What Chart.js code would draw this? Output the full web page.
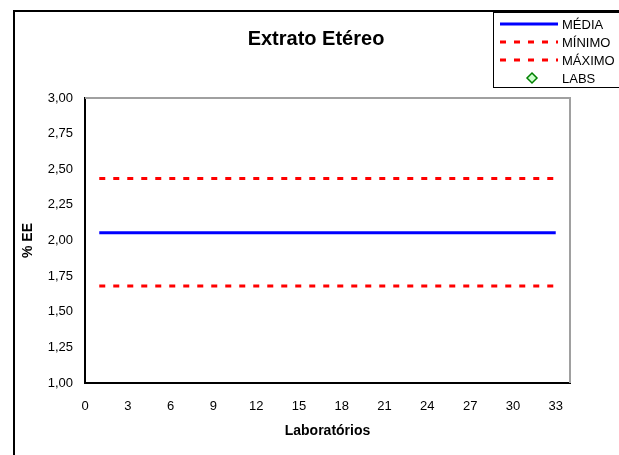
<!DOCTYPE html>
<html>
<head>
<meta charset="utf-8">
<script src="https://cdn.jsdelivr.net/npm/chart.js@4"></script>
<style>
  html, body { margin: 0; padding: 0; background: #fff; }
  #wrap { position: relative; width: 619px; height: 455px; }
</style>
</head>
<body>
<div id="wrap"><canvas id="chart" width="619" height="455"></canvas></div>
<script>
const chartTitle = "Extrato Etéreo";
const xTicks = [0, 3, 6, 9, 12, 15, 18, 21, 24, 27, 30, 33];
const yTicks = [1.00, 1.25, 1.50, 1.75, 2.00, 2.25, 2.50, 2.75, 3.00];

const mediaX = [1, 33];
const mediaY = [2.055, 2.055];
const minimoX = [1, 33];
const minimoY = [1.68, 1.68];
const maximoX = [1, 33];
const maximoY = [2.435, 2.435];
const labsX = [];
const labsY = [];

const FONT = "'Liberation Sans', Arial, sans-serif";
const toPoints = (xs, ys) => xs.map((x, i) => ({ x, y: ys[i] }));
const fmt = v => v.toFixed(2).replace(".", ",");

// outer frame, title and legend box drawn on the canvas
const frameAndLegend = {
  id: "frameAndLegend",
  beforeDraw(chart) {
    const c = chart.ctx;
    c.save();
    c.strokeStyle = "#000";
    c.lineWidth = 2;
    c.beginPath();
    c.moveTo(14, 455);
    c.lineTo(14, 11);
    c.lineTo(619, 11);
    c.stroke();

    c.fillStyle = "#000";
    c.font = "bold 20px " + FONT;
    c.textAlign = "center";
    c.textBaseline = "alphabetic";
    c.fillText(chartTitle, 316, 45);
    c.restore();
  },
  afterDraw(chart) {
    const c = chart.ctx;
    c.save();
    c.fillStyle = "#fff";
    c.fillRect(493, 12, 130, 76);
    c.strokeStyle = "#000";
    c.lineWidth = 1;
    c.strokeRect(493.5, 12.5, 130, 75);

    const items = chart.data.datasets;
    c.font = "13px " + FONT;
    c.textBaseline = "middle";
    items.forEach((ds, i) => {
      const y = 24 + i * 18;
      if (ds.showLine === false) {
        c.beginPath();
        c.moveTo(532, y - 5);
        c.lineTo(537, y);
        c.lineTo(532, y + 5);
        c.lineTo(527, y);
        c.closePath();
        c.fillStyle = ds.backgroundColor;
        c.fill();
        c.strokeStyle = ds.borderColor;
        c.lineWidth = 1.5;
        c.stroke();
      } else {
        c.beginPath();
        c.strokeStyle = ds.borderColor;
        c.lineWidth = ds.borderWidth;
        c.setLineDash(ds.borderDash || []);
        c.moveTo(500, y);
        c.lineTo(558, y);
        c.stroke();
        c.setLineDash([]);
      }
      c.fillStyle = "#000";
      c.fillText(ds.label, 562, y + 1);
    });
    c.restore();
  }
};

new Chart(document.getElementById("chart"), {
  type: "scatter",
  data: {
    datasets: [
      { label: "MÉDIA", data: toPoints(mediaX, mediaY), showLine: true, borderColor: "#0000ff", backgroundColor: "#0000ff", borderWidth: 3, pointRadius: 0 },
      { label: "MÍNIMO", data: toPoints(minimoX, minimoY), showLine: true, borderColor: "#ff0000", backgroundColor: "#ff0000", borderWidth: 3, borderDash: [6, 8], pointRadius: 0 },
      { label: "MÁXIMO", data: toPoints(maximoX, maximoY), showLine: true, borderColor: "#ff0000", backgroundColor: "#ff0000", borderWidth: 3, borderDash: [6, 8], pointRadius: 0 },
      { label: "LABS", data: toPoints(labsX, labsY), showLine: false, borderColor: "#008000", backgroundColor: "#ccffcc", pointStyle: "rectRot", pointRadius: 5 }
    ]
  },
  options: {
    responsive: false,
    animation: false,
    layout: { padding: { left: 14, right: 49, top: 98, bottom: 0 } },
    plugins: {
      legend: { display: false },
      tooltip: { enabled: false },
      title: { display: false }
    },
    scales: {
      x: {
        type: "linear",
        min: 0,
        max: 34,
        afterBuildTicks: axis => { axis.ticks = xTicks.map(v => ({ value: v })); },
        afterFit: axis => { axis.height = 72; },
        ticks: { color: "#000", font: { family: FONT, size: 13 }, padding: 11, maxRotation: 0 },
        grid: { display: false, drawTicks: true, tickLength: 5, tickColor: "#000" },
        border: { color: "#000", width: 2 },
        title: { display: true, text: "Laboratórios", color: "#000", font: { family: FONT, size: 14, weight: "bold" }, padding: { top: 4, bottom: 15 } }
      },
      y: {
        min: 1,
        max: 3,
        afterBuildTicks: axis => { axis.ticks = yTicks.map(v => ({ value: v })); },
        afterFit: axis => { axis.width = 71; },
        ticks: { color: "#000", font: { family: FONT, size: 13 }, padding: 7, callback: v => fmt(v) },
        grid: { display: false, drawTicks: true, tickLength: 5, tickColor: "#000" },
        border: { color: "#000", width: 2 },
        title: { display: true, text: "% EE", color: "#000", font: { family: FONT, size: 14, weight: "bold" }, padding: { top: 6, bottom: 4 } }
      }
    }
  },
  plugins: [frameAndLegend, {
    id: "plotFrame",
    beforeDatasetsDraw(chart) {
      const a = chart.chartArea;
      const c = chart.ctx;
      c.save();
      c.strokeStyle = "#a0a0a0";
      c.lineWidth = 2;
      c.beginPath();
      c.moveTo(a.left, a.top);
      c.lineTo(a.right, a.top);
      c.lineTo(a.right, a.bottom);
      c.stroke();
      c.restore();
    }
  }]
});
</script>
</body>
</html>
